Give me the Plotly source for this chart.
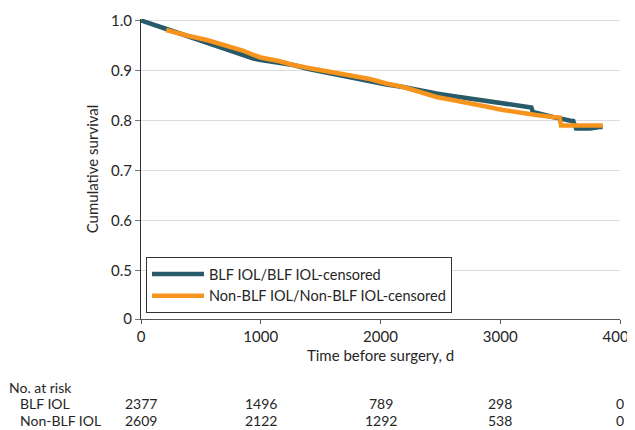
import plotly.graph_objects as go

# Kaplan-Meier style curves
blf_t = [0, 100, 200, 300, 400, 550, 700, 850, 939, 1000, 1150, 1272, 1400, 1550, 1700, 1911,
         2050, 2189, 2330, 2467, 2600, 2744, 2880, 3022, 3150, 3244, 3260, 3272, 3350, 3439, 3578,
         3610, 3633, 3750, 3830, 3855]
blf_s = [1.0, 0.993, 0.984, 0.976, 0.968, 0.954, 0.944, 0.932, 0.924, 0.921, 0.916, 0.911, 0.903,
         0.896, 0.888, 0.877, 0.872, 0.867, 0.860, 0.854, 0.849, 0.844, 0.839, 0.833, 0.830, 0.827,
         0.826, 0.817, 0.812, 0.807, 0.800, 0.799, 0.784, 0.784, 0.787, 0.787]

non_t = [210, 300, 400, 550, 700, 850, 939, 1000, 1150, 1272, 1400, 1550, 1700, 1911, 2050, 2189,
         2330, 2467, 2600, 2744, 2880, 3022, 3150, 3300, 3439, 3495, 3508, 3600, 3750, 3855]
non_s = [0.981, 0.975, 0.969, 0.961, 0.951, 0.940, 0.931, 0.926, 0.919, 0.911, 0.905, 0.899, 0.892,
         0.883, 0.874, 0.867, 0.857, 0.847, 0.841, 0.835, 0.828, 0.821, 0.816, 0.811, 0.807, 0.806,
         0.790, 0.790, 0.790, 0.790]

series_names = ["BLF IOL/BLF IOL-censored", "Non-BLF IOL/Non-BLF IOL-censored"]
series_colors = ["#285a69", "#f7941d"]

# Y axis with a break: 0 drawn at the bottom, then 0.5..1.0
y_tickvals = [0.403, 0.5, 0.6, 0.7, 0.8, 0.9, 1.0]
y_ticktext = ["0", "0.5", "0.6", "0.7", "0.8", "0.9", "1.0"]
x_tickvals = [0, 1000, 2000, 3000, 4000]

# Number at risk table
risk_times = [0, 1000, 2000, 3000, 4000]
risk_labels = ["BLF IOL", "Non-BLF IOL"]
risk_blf = [2377, 1496, 789, 298, 0]
risk_non = [2609, 2122, 1292, 538, 0]

FONT = "Lato, Liberation Sans, sans-serif"
TXT = "#262626"
FS = 15
FS_T = 14

fig = go.Figure()
for t, s, name, col in [(blf_t, blf_s, series_names[0], series_colors[0]),
                        (non_t, non_s, series_names[1], series_colors[1])]:
    fig.add_trace(go.Scatter(x=t, y=s, mode="lines", name=name,
                             line=dict(color=col, width=4.5, shape="linear")))

# page body has an 8px margin: figure is sized/offset to compensate
OFF = 8
W, H = 635 - OFF, 430 - OFF
ml, mr, mt, mb = 141 - OFF, 15, 19 - OFF, 111
ph = H - mt - mb
pw = W - ml - mr

def ypaper(py):
    return (H - mb - (py - OFF)) / ph

def xpaper(px):
    return (px - OFF - ml) / pw

annotations = []
annotations.append(dict(text="No. at risk", xref="paper", yref="paper",
                        x=xpaper(7), y=ypaper(387), xanchor="left",
                        yanchor="middle", showarrow=False, font=dict(size=FS_T, color=TXT, family=FONT)))
for lab, vals, py in [(risk_labels[0], risk_blf, 404), (risk_labels[1], risk_non, 420.5)]:
    annotations.append(dict(text=lab, xref="paper", yref="paper",
                            x=xpaper(18), y=ypaper(py), xanchor="left",
                            yanchor="middle", showarrow=False,
                            font=dict(size=FS_T, color=TXT, family=FONT)))
    for t, v in zip(risk_times, vals):
        annotations.append(dict(text=str(v), xref="x", yref="paper", x=t, y=ypaper(py),
                                xanchor="center", yanchor="middle", showarrow=False,
                                font=dict(size=FS_T, color=TXT, family=FONT)))

fig.update_layout(
    width=W, height=H,
    margin=dict(l=ml, r=mr, t=mt, b=mb, autoexpand=False),
    paper_bgcolor="white", plot_bgcolor="white",
    font=dict(family=FONT, size=FS, color=TXT),
    showlegend=True,
    legend=dict(x=xpaper(146), y=ypaper(313), xanchor="left", yanchor="bottom",
                bordercolor="#333333", borderwidth=1, bgcolor="white", itemwidth=52,
                font=dict(size=FS_T + 0.5, color=TXT, family=FONT), tracegroupgap=0),
    xaxis=dict(range=[0, 4000], tickvals=x_tickvals, showgrid=False, zeroline=False,
               showline=True, linecolor="#555555", linewidth=1, ticks="outside",
               ticklen=4, tickcolor="#555555", ticklabeloverflow="allow", automargin=False,
               title=dict(text="Time before surgery, d", standoff=6,
                          font=dict(size=FS, color=TXT, family=FONT))),
    yaxis=dict(range=[0.403, 1.003], tickvals=y_tickvals, ticktext=y_ticktext,
               showgrid=True, gridcolor="#dcdcdc", gridwidth=1, zeroline=False,
               showline=True, linecolor="#333333", linewidth=1, ticks="outside",
               ticklen=5, tickcolor="#777777", automargin=False,
               title=dict(text="Cumulative survival", standoff=8,
                          font=dict(size=FS, color=TXT, family=FONT))),
    annotations=annotations,
)

fig.write_html("out.html")
